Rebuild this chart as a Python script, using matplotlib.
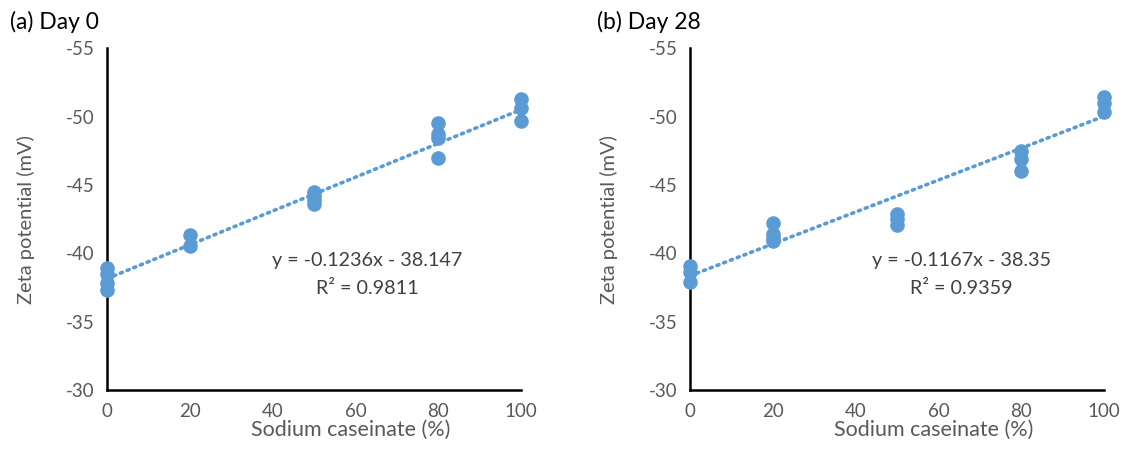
import matplotlib
matplotlib.use("Agg")
import matplotlib.pyplot as plt
import numpy as np

# Sodium caseinate content (%) for each replicate measurement
x_day0 = [0, 0, 0, 0, 20, 20, 50, 50, 50, 50, 80, 80, 80, 80, 100, 100, 100]
zeta_day0 = [-38.9, -38.5, -37.8, -37.3, -41.3, -40.5, -44.5, -44.2, -43.9, -43.6,
             -49.5, -48.7, -48.4, -47.0, -51.3, -50.6, -49.7]

x_day28 = [0, 0, 0, 20, 20, 20, 20, 50, 50, 50, 80, 80, 80, 100, 100, 100]
zeta_day28 = [-39.1, -38.6, -37.9, -42.2, -41.4, -41.1, -40.9, -42.9, -42.5, -42.1,
              -47.5, -46.9, -46.0, -51.4, -51.0, -50.3]

# Linear trendline coefficients (slope, intercept) and R^2
fit_day0 = (-0.1236, -38.147, 0.9811)
fit_day28 = (-0.1167, -38.35, 0.9359)

titles = ["(a) Day 0", "(b) Day 28"]
x_ticks = [0, 20, 40, 60, 80, 100]
y_ticks = [-30, -35, -40, -45, -50, -55]

blue = "#5B9BD5"
grey = "#595959"
plt.rcParams["font.family"] = ["Lato", "DejaVu Sans"]
plt.rcParams["axes.unicode_minus"] = False

fig = plt.figure(figsize=(11.3, 4.57), dpi=100)
panels = [
    # left, x, y, fit, title, equation format, equation centre, title x
    (0.0947, x_day0, zeta_day0, fit_day0, titles[0], "{:.4f}x - {:.3f}", 0.628, 0.009),
    (0.6106, x_day28, zeta_day28, fit_day28, titles[1], "{:.4f}x - {:.2f}", 0.656, 0.528),
]

for left, xs, ys, fit, title, fmt, eq_x, title_x in panels:
    ax = fig.add_axes([left, 0.1466, 0.3664, 0.748])
    slope, intercept, r2 = fit
    xl = np.array([0, 100])
    ax.plot(xl, slope * xl + intercept, linestyle=(0, (0.6, 1.4)), color=blue,
            linewidth=2.6, dash_capstyle="round", zorder=2)
    ax.plot(xs, ys, "o", color=blue, markersize=10.5, markeredgewidth=0, zorder=3)
    ax.set_xlim(0, 100)
    ax.set_ylim(-30, -55)
    ax.set_xticks(x_ticks)
    ax.set_yticks(y_ticks)
    ax.tick_params(length=0, labelsize=13.5, labelcolor=grey, pad=9)
    for s in ["top", "right"]:
        ax.spines[s].set_visible(False)
    for s in ["left", "bottom"]:
        ax.spines[s].set_linewidth(1.8)
        ax.spines[s].set_color("black")
    for art in ax.lines:
        art.set_clip_on(False)
    ax.set_xlabel("Sodium caseinate (%)", fontsize=15.5, color=grey)
    ax.xaxis.set_label_coords(0.589, -0.088)
    ax.set_ylabel("Zeta potential (mV)", fontsize=14.5, color=grey)
    ax.yaxis.set_label_coords(-0.175, 0.50)
    eq = "y = " + fmt.format(slope, abs(intercept))
    ax.text(eq_x, 0.38, eq, transform=ax.transAxes, ha="center", va="center",
            fontsize=14.2, color="#404040")
    ax.text(eq_x, 0.298, "R² = {:.4f}".format(r2), transform=ax.transAxes,
            ha="center", va="center", fontsize=14.2, color="#404040")
    fig.text(title_x, 0.952, title, fontsize=16.5, color="black",
             ha="left", va="center")

fig.savefig("out.png", dpi=100)
